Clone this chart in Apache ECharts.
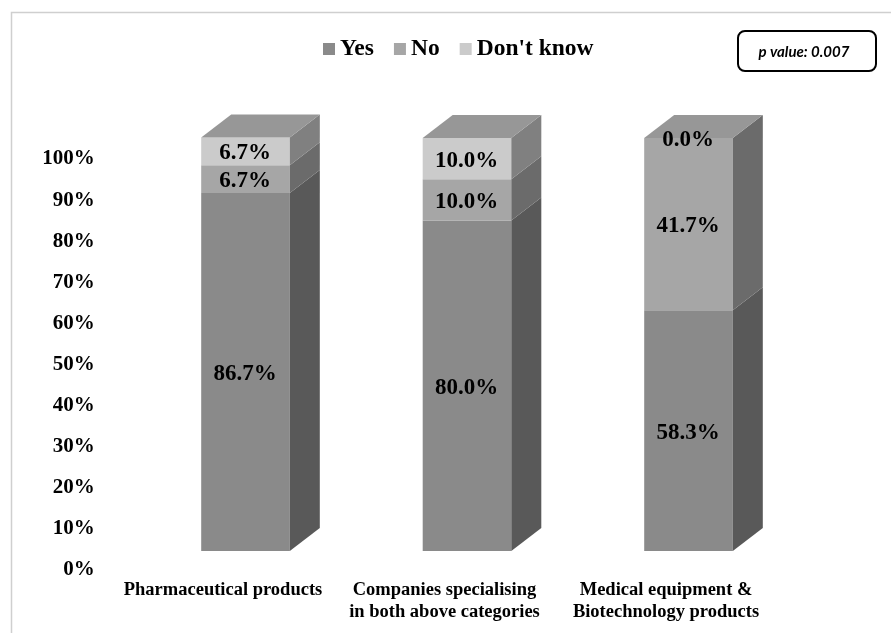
<!DOCTYPE html>
<html>
<head>
<meta charset="utf-8">
<style>html,body{margin:0;padding:0;background:#fff}#chart{width:891px;height:633px}</style>
<script src="https://cdn.jsdelivr.net/npm/echarts@6/dist/echarts.min.js"></script>
</head>
<body>
<div id="chart"></div>
<script>
// Survey answers by company category, in percent
const categories = ['Pharmaceutical products', 'Companies specialising\nin both above categories', 'Medical equipment &\nBiotechnology products'];
const yesValues = [86.7, 80.0, 58.3];
const noValues = [6.7, 10.0, 41.7];
const dontKnowValues = [6.7, 10.0, 0.0];
const yTicks = { min: 0, max: 100, interval: 10 };
const pValueText = 'p value: 0.007';

const SERIF = '"Liberation Serif","Times New Roman",serif';
const DEPTH_X = 30, DEPTH_Y = 23;
const TOP_COLOR = '#979797';

// Extruded stacked column: front face, side face, value label, and a lid on the last layer
function columnLayer(front, side, withLid) {
  return function (params, api) {
    const cat = api.value(0), low = api.value(1), high = api.value(2);
    const halfWidth = api.size([1, 0])[0] * 0.2;
    const bottom = api.coord([cat, low]);
    const top = api.coord([cat, high]);
    const x0 = bottom[0] - halfWidth, x1 = bottom[0] + halfWidth;
    const children = [
      { type: 'polygon', shape: { points: [[x0, top[1]], [x1, top[1]], [x1, bottom[1]], [x0, bottom[1]]] }, style: { fill: front } },
      { type: 'polygon', shape: { points: [[x1, top[1]], [x1 + DEPTH_X, top[1] - DEPTH_Y], [x1 + DEPTH_X, bottom[1] - DEPTH_Y], [x1, bottom[1]]] }, style: { fill: side } }
    ];
    if (withLid) {
      children.push({ type: 'polygon', shape: { points: [[x0, top[1]], [x0 + DEPTH_X, top[1] - DEPTH_Y], [x1 + DEPTH_X, top[1] - DEPTH_Y], [x1, top[1]]] }, style: { fill: TOP_COLOR } });
    }
    children.push({
      type: 'text', z2: 10,
      style: {
        x: bottom[0] - 0.5, y: (top[1] + bottom[1]) / 2 + 2,
        text: (high - low).toFixed(1) + '%',
        fill: '#000', align: 'center', verticalAlign: 'middle',
        font: 'bold 23px ' + SERIF
      }
    });
    return { type: 'group', children };
  };
}

// Turn the value arrays into [category, from, to] rows for stacking
const stack = [yesValues, noValues, dontKnowValues];
function layerRows(level) {
  return categories.map((_, i) => {
    let from = 0;
    for (let k = 0; k < level; k++) from += stack[k][i];
    return [i, from, from + stack[level][i]];
  });
}

function layerSeries(name, level, front, side, withLid) {
  return {
    type: 'custom', name, data: layerRows(level),
    encode: { x: 0, y: [1, 2] },
    itemStyle: { color: front },
    renderItem: columnLayer(front, side, withLid),
    z: 2 + level
  };
}

const chart = echarts.init(document.getElementById('chart'));
chart.setOption({
  animation: false,
  backgroundColor: '#fff',
  legend: {
    left: 318, top: 32, icon: 'rect', itemWidth: 12, itemHeight: 12, itemGap: 20,
    data: ['Yes', 'No', "Don't know"],
    textStyle: { fontFamily: SERIF, fontWeight: 'bold', fontSize: 23.5, color: '#000' }
  },
  // Columns sit on the first grid; the percent scale is set lower on the second, as in a 3D plot's back wall
  grid: [
    { left: 134.75, right: 91.75, top: 138, bottom: 82 },
    { left: 134.75, right: 91.75, top: 159, bottom: 63 }
  ],
  xAxis: [
    {
      type: 'category', data: categories,
      axisLine: { show: false }, axisTick: { show: false },
      axisLabel: {
        interval: 0, margin: 28, verticalAlign: 'top', align: 'center',
        padding: [0, 45, 0, 0], lineHeight: 22,
        fontFamily: SERIF, fontWeight: 'bold', fontSize: 18.5, color: '#000'
      }
    },
    { type: 'category', gridIndex: 1, data: categories, show: false }
  ],
  yAxis: [
    {
      type: 'value', min: yTicks.min, max: yTicks.max, interval: yTicks.interval,
      splitLine: { show: false }, axisLine: { show: false }, axisTick: { show: false },
      axisLabel: { show: false }
    },
    {
      type: 'value', gridIndex: 1, min: yTicks.min, max: yTicks.max, interval: yTicks.interval,
      splitLine: { show: false }, axisLine: { show: false }, axisTick: { show: false },
      axisLabel: {
        margin: 40, formatter: '{value}%',
        fontFamily: SERIF, fontWeight: 'bold', fontSize: 21, color: '#000'
      }
    }
  ],
  graphic: [
    // Outer frame: top and left edges only
    { type: 'polyline', silent: true, shape: { points: [[11.5, 633], [11.5, 12.5], [891, 12.5]] }, style: { stroke: '#cfcfcf', lineWidth: 1.5, fill: null } },
    { type: 'rect', shape: { x: 738, y: 31, width: 138, height: 40, r: 7 }, style: { fill: '#fff', stroke: '#000', lineWidth: 2 } },
    { type: 'text', style: { x: 804, y: 52, text: pValueText, align: 'center', verticalAlign: 'middle', fill: '#000', font: 'italic bold 15px Lato, "Open Sans", sans-serif' } }
  ],
  series: [
    layerSeries('Yes', 0, '#8a8a8a', '#595959', false),
    layerSeries('No', 1, '#a6a6a6', '#6b6b6b', false),
    layerSeries("Don't know", 2, '#cbcbcb', '#808080', true)
  ]
});
</script>
</body>
</html>
